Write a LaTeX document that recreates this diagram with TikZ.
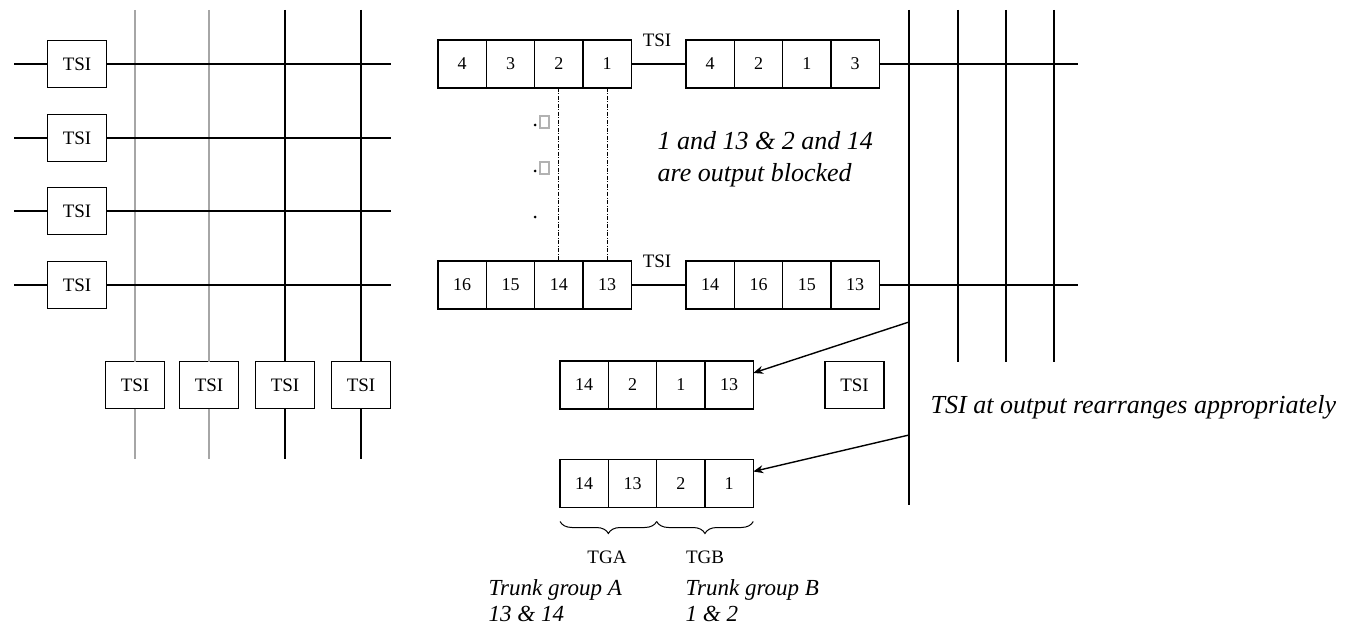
\documentclass[tikz,border=0pt]{standalone}
\usepackage{fontspec}
\setmainfont{Liberation Serif}
\usetikzlibrary{arrows.meta, positioning, calc, decorations.pathreplacing}

\begin{document}
\begin{tikzpicture}[
    x=1pt, y=-1pt,
    line width=1.4pt,
    tsi/.style={rectangle, draw, minimum width=59pt, minimum height=47pt,
                inner sep=0pt, outer sep=0pt, font=\fontsize{19}{21}\selectfont},
    cell/.style={rectangle, draw, minimum width=48.3pt, minimum height=48pt,
                 inner sep=0pt, outer sep=0pt, font=\fontsize{18}{20}\selectfont},
    lbl/.style={inner sep=0pt, font=\fontsize{19}{21}\selectfont},
    grayline/.style={gray!70, line width=2.6pt},
    note/.style={inner sep=0pt, align=left, font=\fontsize{26}{32}\selectfont\itshape},
    smallnote/.style={inner sep=0pt, align=left, font=\fontsize{23}{26}\selectfont\itshape},
    arr/.style={-{Stealth[length=10pt, width=8pt]}},
    blocked/.style={line width=0.9pt, dash pattern=on 4pt off 1.5pt on 1pt off 1.5pt}
  ]
  \useasboundingbox (0,0) rectangle (1359,631);

  % input side: TSI on each input line
  \node[tsi] (tl1) at (77,64)  {TSI};
  \node[tsi] (tl2) at (77,138) {TSI};
  \node[tsi] (tl3) at (77,211) {TSI};
  \node[tsi] (tl4) at (77,285) {TSI};

  % TSI on each output column
  \node[tsi] (tc1) at (135,385) {TSI};
  \node[tsi] (tc2) at (209,385) {TSI};
  \node[tsi] (tc3) at (285,385) {TSI};
  \node[tsi] (tc4) at (361,385) {TSI};

  \coordinate (ct1) at (135,10);  \coordinate (cb1) at (135,459);
  \coordinate (ct2) at (209,10);  \coordinate (cb2) at (209,459);
  \coordinate (ct3) at (285,10);  \coordinate (cb3) at (285,459);
  \coordinate (ct4) at (361,10);  \coordinate (cb4) at (361,459);

  \draw[grayline] (ct1) -- (tc1.north) (tc1.south) -- (cb1);
  \draw[grayline] (ct2) -- (tc2.north) (tc2.south) -- (cb2);
  \draw (ct3) -- (tc3.north) (tc3.south) -- (cb3);
  \draw (ct4) -- (tc4.north) (tc4.south) -- (cb4);

  \coordinate (hl1) at (14,64);   \coordinate (hr1) at (391,64);
  \coordinate (hl2) at (14,138);  \coordinate (hr2) at (391,138);
  \coordinate (hl3) at (14,211);  \coordinate (hr3) at (391,211);
  \coordinate (hl4) at (14,285);  \coordinate (hr4) at (391,285);

  \draw (hl1) -- (tl1.west) (tl1.east) -- (hr1);
  \draw (hl2) -- (tl2.west) (tl2.east) -- (hr2);
  \draw (hl3) -- (tl3.west) (tl3.east) -- (hr3);
  \draw (hl4) -- (tl4.west) (tl4.east) -- (hr4);

  % time slots before and after the TSI
  \node[cell] (a1) at (462.2,64) {4};
  \node[cell, right=0pt of a1] (a2) {3};
  \node[cell, right=0pt of a2] (a3) {2};
  \node[cell, right=0pt of a3] (a4) {1};

  \node[cell] (b1) at (710.2,64) {4};
  \node[cell, right=0pt of b1] (b2) {2};
  \node[cell, right=0pt of b2] (b3) {1};
  \node[cell, right=0pt of b3] (b4) {3};

  \node[cell] (c1) at (462.2,285) {16};
  \node[cell, right=0pt of c1] (c2) {15};
  \node[cell, right=0pt of c2] (c3) {14};
  \node[cell, right=0pt of c3] (c4) {13};

  \node[cell] (d1) at (710.2,285) {14};
  \node[cell, right=0pt of d1] (d2) {16};
  \node[cell, right=0pt of d2] (d3) {15};
  \node[cell, right=0pt of d3] (d4) {13};

  \node[lbl] (tsiup) at (657,40)  {TSI};
  \node[lbl] (tsidn) at (657,261) {TSI};

  % output switch columns
  \coordinate (ot1) at (909,10);   \coordinate (ob1) at (909,505);
  \coordinate (ot2) at (958,10);   \coordinate (ob2) at (958,362);
  \coordinate (ot3) at (1006,10);  \coordinate (ob3) at (1006,362);
  \coordinate (ot4) at (1054,10);  \coordinate (ob4) at (1054,362);
  \draw (ot1) -- (ob1);
  \draw (ot2) -- (ob2);
  \draw (ot3) -- (ob3);
  \draw (ot4) -- (ob4);

  \coordinate (re1) at (1078,64);
  \coordinate (re2) at (1078,285);
  \draw (a4.east) -- (b1.west);
  \draw (b4.east) -- (re1);
  \draw (c4.east) -- (d1.west);
  \draw (d4.east) -- (re2);

  \draw[blocked] (a3.south) -- (c3.north);
  \draw[blocked] (a4.south) -- (c4.north);

  % leftover glyphs between the rows
  \fill (535,125) circle (1.5pt);
  \draw[gray!60, line width=1.2pt] (540,116) rectangle (549,128);
  \fill (535,171) circle (1.5pt);
  \draw[gray!60, line width=1.2pt] (540,162) rectangle (549,174);
  \fill (535,217) circle (1.5pt);

  \node[note, anchor=north west] (blk) at (657,131)
    {1 and 13 \& 2 and 14\\are output blocked};

  % rearranged output
  \node[cell] (e1) at (584.2,385) {14};
  \node[cell, right=0pt of e1] (e2) {2};
  \node[cell, right=0pt of e2] (e3) {1};
  \node[cell, right=0pt of e3] (e4) {13};

  \node[cell] (f1) at (584.2,483.5) {14};
  \node[cell, right=0pt of f1] (f2) {13};
  \node[cell, right=0pt of f2] (f3) {2};
  \node[cell, right=0pt of f3] (f4) {1};

  \node[tsi] (tso) at (854.5,385) {TSI};

  \coordinate (o1) at (909,322);
  \coordinate (o2) at (909,435);
  \draw[arr] (o1) -- ($(e4.north east)!0.25!(e4.south east)$);
  \draw[arr] (o2) -- ($(f4.north east)!0.25!(f4.south east)$);

  \node[note, anchor=base west] (rearr) at (930,413)
    {TSI at output rearranges appropriately};

  % trunk groups
  \draw[decorate, decoration={brace, mirror, amplitude=12pt}, line width=1pt]
    ($(f1.south west)+(0,14)$) -- ($(f2.south east)+(0,14)$);
  \draw[decorate, decoration={brace, mirror, amplitude=12pt}, line width=1pt]
    ($(f3.south west)+(0,14)$) -- ($(f4.south east)+(0,14)$);
  \node[lbl] (tga) at (607,557) {TGA};
  \node[lbl] (tgb) at (705,557) {TGB};

  \node[smallnote, anchor=north west] (grpa) at (488,579)
    {Trunk group A\\13 \& 14};
  \node[smallnote, anchor=north west] (grpb) at (685,579)
    {Trunk group B\\1 \& 2};
\end{tikzpicture}
\end{document}
